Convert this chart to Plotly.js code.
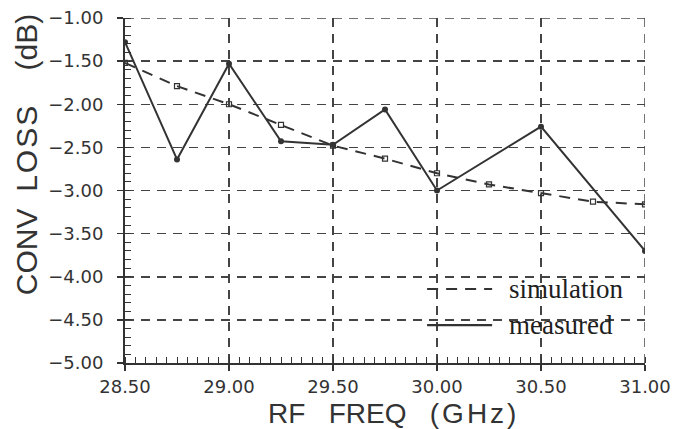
<!DOCTYPE html>
<html>
<head>
<meta charset="utf-8">
<script src="https://cdn.plot.ly/plotly-3.0.1.min.js"></script>
<style>html,body{margin:0;padding:0;background:#fff;}#chart{width:681px;height:429px;}</style>
</head>
<body>
<div id="chart"></div>
<script>
const simFreq = [28.5, 28.75, 29.0, 29.25, 29.5, 29.75, 30.0, 30.25, 30.5, 30.75, 31.0];
const simLoss = [-1.52, -1.79, -2.00, -2.24, -2.48, -2.63, -2.80, -2.93, -3.03, -3.13, -3.16];
const measFreq = [28.5, 28.75, 29.0, 29.25, 29.5, 29.75, 30.0, 30.5, 31.0];
const measLoss = [-1.28, -2.64, -1.53, -2.43, -2.47, -2.06, -3.00, -2.26, -3.70];
const xTicks = [28.5, 29.0, 29.5, 30.0, 30.5, 31.0];
const yTicks = [-1.0, -1.5, -2.0, -2.5, -3.0, -3.5, -4.0, -4.5, -5.0];
const seriesNames = ['simulation', 'measured'];
const xTitle = 'RF\u00a0\u00a0\u00a0FREQ\u00a0\u00a0\u00a0<span style="letter-spacing:3px">(GHz)</span>';
const yTitle = 'CONV\u00a0 <span style="letter-spacing:2px">LOSS</span>\u00a0\u00a0\u00a0 (dB)';

const ink = '#333333';
const gridCol = '#444444';
const gridDash = '9px,7px';
const simDash = '11px,8px';
const traces = [
  {x: simFreq, y: simLoss, mode: 'lines+markers', name: seriesNames[0],
   line: {color: ink, width: 2, dash: simDash},
   marker: {symbol: 'square-open', size: 5, color: ink, line: {width: 1.2}}},
  {x: measFreq, y: measLoss, mode: 'lines+markers', name: seriesNames[1],
   line: {color: ink, width: 2},
   marker: {symbol: 'circle', size: 6, color: ink}}
];

const sansFam = 'Liberation Sans, Arial, sans-serif';
const tickFam = 'DejaVu Sans, sans-serif';
const serifFam = 'Liberation Serif, Times New Roman, serif';

// legend drawn in paper coordinates
const legX0 = 0.581, legX1 = 0.706, legTextX = 0.735;
const legY = [0.2145, 0.110];
const shapes = [
  // grid lines on the top and right edges (Plotly skips grid lines at the range ends)
  {type: 'line', layer: 'below', xref: 'x', yref: 'paper', x0: xTicks[xTicks.length - 1], x1: xTicks[xTicks.length - 1], y0: 0, y1: 1,
   line: {color: gridCol, width: 1.5, dash: gridDash}},
  {type: 'line', layer: 'below', xref: 'paper', yref: 'y', x0: 0, x1: 1, y0: yTicks[0], y1: yTicks[0],
   line: {color: gridCol, width: 1.5, dash: gridDash}},
  {type: 'line', xref: 'paper', yref: 'paper', x0: legX0, x1: legX1, y0: legY[0], y1: legY[0],
   line: {color: ink, width: 2.2, dash: simDash}},
  {type: 'line', xref: 'paper', yref: 'paper', x0: legX0, x1: legX1, y0: legY[1], y1: legY[1],
   line: {color: ink, width: 2.2}}
];
const annotations = [
  {text: seriesNames[0], xref: 'paper', yref: 'paper', x: legTextX, y: legY[0], xanchor: 'left', yanchor: 'middle',
   showarrow: false, font: {family: serifFam, size: 27, color: '#1e1e1e'}},
  {text: seriesNames[1], xref: 'paper', yref: 'paper', x: legTextX, y: legY[1], xanchor: 'left', yanchor: 'middle',
   showarrow: false, font: {family: serifFam, size: 27, color: '#1e1e1e'}},
  {text: xTitle, xref: 'paper', yref: 'paper', x: 0.517, y: -0.145, xanchor: 'center', yanchor: 'middle',
   showarrow: false, font: {family: sansFam, size: 28, color: ink}},
  {text: yTitle, xref: 'paper', yref: 'paper', x: -0.188, y: 0.603, xanchor: 'center', yanchor: 'middle',
   textangle: -90, showarrow: false, font: {family: sansFam, size: 30, color: ink}}
];

const layout = {
  width: 681, height: 429,
  margin: {l: 125, r: 36, t: 18, b: 66},
  paper_bgcolor: '#ffffff', plot_bgcolor: '#ffffff',
  showlegend: false,
  shapes: shapes, annotations: annotations,
  xaxis: {
    range: [28.5, 31.0], tickvals: xTicks, ticktext: xTicks.map(v => v.toFixed(2)),
    showline: true, linecolor: ink, linewidth: 2,
    ticks: 'outside', ticklen: 6, tickwidth: 1.5, tickcolor: ink,
    minor: {dtick: 0.05, tick0: 28.5, ticks: 'inside', ticklen: 6, tickcolor: ink, tickwidth: 1, showgrid: false},
    showgrid: true, gridcolor: gridCol, gridwidth: 1.5, griddash: gridDash,
    zeroline: false, tickfont: {family: tickFam, size: 18, color: ink}
  },
  yaxis: {
    range: [-5.0, -1.0], tickvals: yTicks, ticktext: yTicks.map(v => '\u2212' + Math.abs(v).toFixed(2)),
    showline: true, linecolor: ink, linewidth: 2,
    ticks: 'outside', ticklen: 6, tickwidth: 1.5, tickcolor: ink,
    minor: {dtick: 0.1, tick0: -5, ticks: 'inside', ticklen: 6, tickcolor: ink, tickwidth: 1, showgrid: false},
    showgrid: true, gridcolor: gridCol, gridwidth: 1.5, griddash: gridDash,
    zeroline: false, tickfont: {family: tickFam, size: 18, color: ink}, ticklabelstandoff: 10
  }
};
Plotly.newPlot('chart', traces, layout, {staticPlot: true, displayModeBar: false});
</script>
</body>
</html>
